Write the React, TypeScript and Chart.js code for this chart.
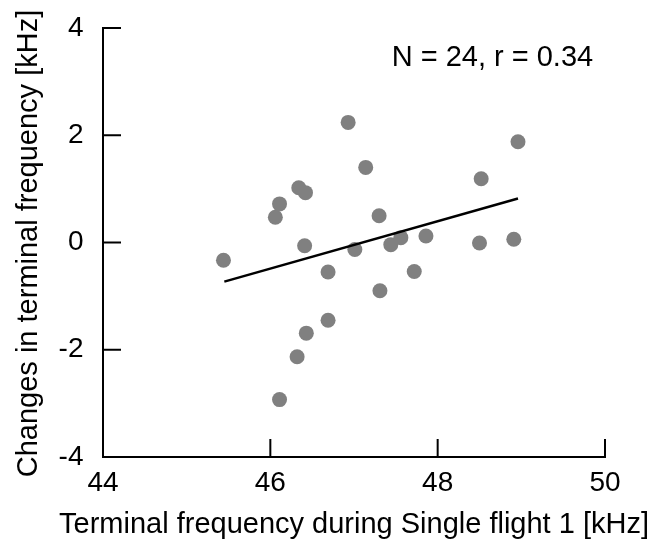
import React, { useEffect, useRef } from "react";
import { Chart, registerables } from "chart.js";

Chart.register(...registerables);

// Terminal frequency during Single flight 1 [kHz]
const xValues = [
  45.44, 46.11, 46.06, 46.34, 46.42, 46.41, 46.93, 47.14, 47.3, 47.01, 47.44, 47.56,
  47.86, 46.69, 47.72, 47.31, 46.69, 46.43, 46.32, 46.11, 48.96, 48.52, 48.5, 48.91,
];
// Changes in terminal frequency [kHz]
const yValues = [
  -0.33, 0.72, 0.47, 1.02, 0.93, -0.06, 2.24, 1.4, 0.5, -0.13, -0.04, 0.09,
  0.12, -0.55, -0.54, -0.9, -1.45, -1.69, -2.13, -2.93, 1.88, 1.19, -0.01, 0.06,
];
// regression line end points
const fitX = [45.45, 48.96];
const fitY = [-0.73, 0.82];

const xTicks = [44, 46, 48, 50];
const yTicks = [-4, -2, 0, 2, 4];
const annotationText = "N = 24, r = 0.34";
const annotationAt = [47.45, 3.3];

const xTitle = "Terminal frequency during Single flight 1 [kHz]";
const yTitle = "Changes in terminal frequency [kHz]";

const FONT = "'Liberation Sans', Arial, Helvetica, sans-serif";

const decorations = {
  id: "decorations",
  beforeDatasetsDraw(chart: any) {
    const { ctx, chartArea, scales } = chart;
    const TL = 18;
    ctx.save();
    ctx.strokeStyle = "#000";
    ctx.lineWidth = 2;
    ctx.lineCap = "butt";
    for (const v of xTicks) {
      const px = scales.x.getPixelForValue(v);
      ctx.beginPath();
      ctx.moveTo(px, chartArea.bottom);
      ctx.lineTo(px, chartArea.bottom - TL);
      ctx.stroke();
    }
    for (const v of yTicks) {
      const py = scales.y.getPixelForValue(v);
      ctx.beginPath();
      ctx.moveTo(chartArea.left, py);
      ctx.lineTo(chartArea.left + TL, py);
      ctx.stroke();
    }
    ctx.fillStyle = "#000";
    ctx.font = `29px ${FONT}`;
    ctx.textBaseline = "alphabetic";
    // annotation
    ctx.textAlign = "left";
    ctx.fillText(
      annotationText,
      scales.x.getPixelForValue(annotationAt[0]),
      scales.y.getPixelForValue(annotationAt[1])
    );
    // x title
    ctx.textAlign = "center";
    ctx.fillText(xTitle, (chartArea.left + chartArea.right) / 2, chartArea.bottom + 75.5);
    // y title
    ctx.save();
    ctx.translate(chartArea.left - 66.5, (chartArea.top + chartArea.bottom) / 2 + 1);
    ctx.rotate(-Math.PI / 2);
    ctx.fillText(yTitle, 0, 0);
    ctx.restore();
    ctx.restore();
  },
};

export default function App() {
  const ref = useRef<HTMLCanvasElement | null>(null);

  useEffect(() => {
    if (!ref.current) return;
    const points = xValues.map((x, i) => ({ x, y: yValues[i] }));
    const fit = fitX.map((x, i) => ({ x, y: fitY[i] }));
    const chart = new Chart(ref.current, {
      type: "scatter",
      data: {
        datasets: [
          {
            type: "line",
            data: fit,
            borderColor: "#000",
            borderWidth: 2.5,
            pointRadius: 0,
            fill: false,
            showLine: true,
          } as any,
          {
            data: points,
            backgroundColor: "#808080",
            borderWidth: 0,
            pointRadius: 7.5,
            pointHoverRadius: 7.5,
          },
        ],
      },
      options: {
        responsive: false,
        animation: false,
        events: [],
        layout: { padding: { top: 28, right: 50, left: 0, bottom: 0 } },
        plugins: { legend: { display: false }, tooltip: { enabled: false } },
        scales: {
          x: {
            type: "linear",
            min: 44,
            max: 50,
            afterBuildTicks: (s: any) => {
              s.ticks = xTicks.map((v) => ({ value: v }));
            },
            afterFit: (s: any) => {
              s.height = 85;
              s.paddingLeft = 0;
              s.paddingRight = 0;
            },
            grid: { display: false, drawTicks: false },
            border: { display: true, color: "#000", width: 2 },
            ticks: {
              color: "#000",
              font: { family: FONT, size: 28 },
              padding: 9.5,
              maxRotation: 0,
            },
          },
          y: {
            type: "linear",
            min: -4,
            max: 4,
            afterBuildTicks: (s: any) => {
              s.ticks = yTicks.map((v) => ({ value: v }));
            },
            afterFit: (s: any) => {
              s.width = 103;
              s.paddingTop = 0;
              s.paddingBottom = 0;
            },
            grid: { display: false, drawTicks: false },
            border: { display: true, color: "#000", width: 2 },
            ticks: {
              color: "#000",
              font: { family: FONT, size: 28 },
              padding: 19.5,
            },
          },
        },
      },
      plugins: [decorations],
    });
    return () => chart.destroy();
  }, []);

  return (
    <div style={{ position: "absolute", left: 0, top: 0, width: 655, height: 542, background: "#fff" }}>
      <canvas ref={ref} width={655} height={542} style={{ display: "block" }} />
    </div>
  );
}
